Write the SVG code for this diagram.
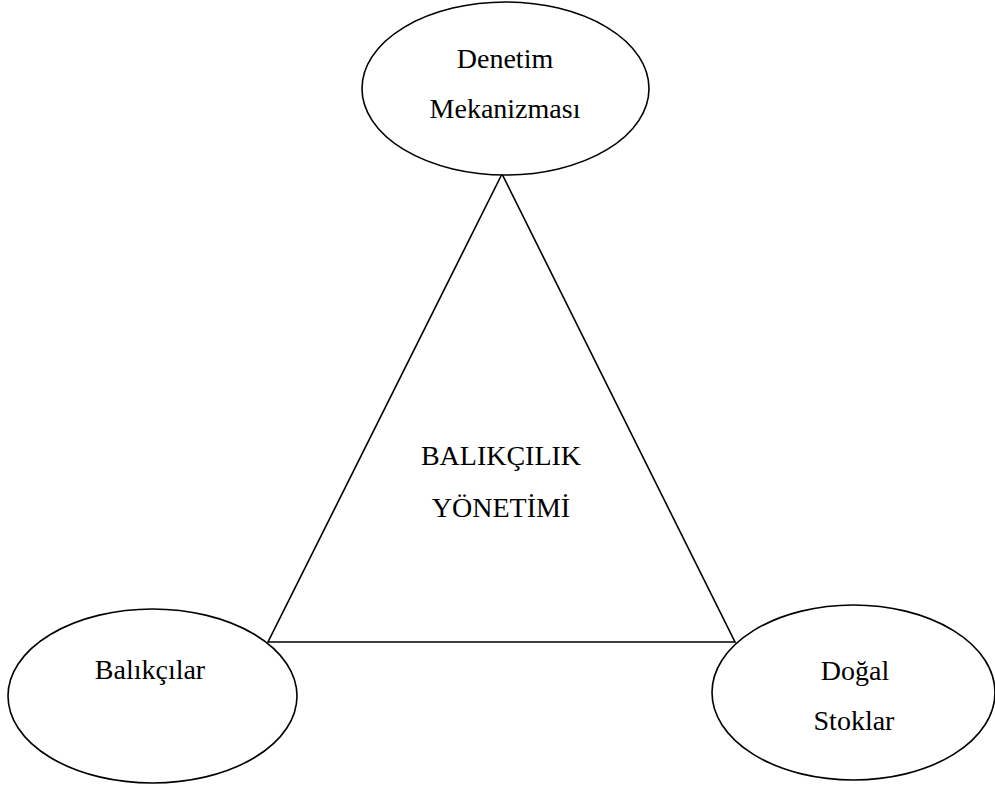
<svg xmlns="http://www.w3.org/2000/svg" width="995" height="787" viewBox="0 0 995 787">
<style>
.n{fill:#fff;stroke:#000;stroke-width:1.6}
.c{fill:none;stroke:#000;stroke-width:1.6}
text{font-family:"Liberation Serif","Times New Roman",serif;font-size:28px;fill:#000;text-anchor:middle}
</style>
<rect width="995" height="787" fill="#fff"/>
<g id="connectors">
<polygon class="c" points="502,174 268,642 735,642"/>
</g>
<g id="center">
<text x="501" y="465">BALIKÇILIK</text>
<text x="501" y="517">YÖNETİMİ</text>
</g>
<g id="denetim">
<ellipse class="n" cx="505.5" cy="88.5" rx="143.5" ry="86.5"/>
<text x="505" y="68">Denetim</text>
<text x="505" y="118">Mekanizması</text>
</g>
<g id="balikcilar">
<ellipse class="n" cx="152.5" cy="696" rx="144.5" ry="87"/>
<text x="150" y="679">Balıkçılar</text>
</g>
<g id="dogal">
<ellipse class="n" cx="853.5" cy="692.5" rx="141.5" ry="87.5"/>
<text x="855" y="680">Doğal</text>
<text x="854" y="730">Stoklar</text>
</g>
</svg>
